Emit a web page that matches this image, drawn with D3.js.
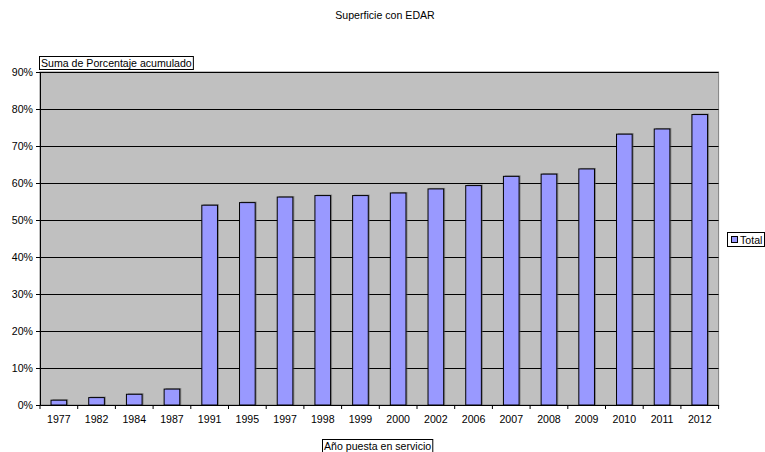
<!DOCTYPE html>
<html><head><meta charset="utf-8">
<script src="https://cdn.jsdelivr.net/npm/d3@7"></script>
<style>body{margin:0;background:#fff}svg{display:block;font-family:"Liberation Sans",Arial,sans-serif}</style>
</head><body><svg id="c" width="765" height="452"></svg>
<script>
const years = ["1977","1982","1984","1987","1991","1995","1997","1998","1999","2000","2002","2006","2007","2008","2009","2010","2011","2012"];
const totals = [1.3,2.0,2.9,4.3,54.0,54.7,56.2,56.6,56.6,57.3,58.4,59.3,61.8,62.4,63.8,73.2,74.6,78.5];
const yTicks = [0,10,20,30,40,50,60,70,80,90];
const title = "Superficie con EDAR";
const yTitle = "Suma de Porcentaje acumulado";
const xTitle = "Año puesta en servicio";
const seriesName = "Total";

const FS = 10.6;
const svg = d3.select("#c");
const L=40, R=718.6, T=72, B=405;
const x = d3.scaleBand().domain(years).range([L,R]).paddingInner(0.585).paddingOuter(0.2925);
const y = d3.scaleLinear().domain([0,90]).range([B,T]);

svg.append("text").attr("x",385).attr("y",19).attr("text-anchor","middle").attr("font-size",FS).text(title);

svg.append("rect").attr("x",L).attr("y",T).attr("width",R-L).attr("height",B-T).attr("fill","#c0c0c0").attr("stroke","#808080").attr("stroke-width",1);

svg.append("g").selectAll("line").data(yTicks.filter(d=>d>0)).join("line")
 .attr("x1",L).attr("x2",R).attr("y1",d=>Math.round(y(d))+0.5).attr("y2",d=>Math.round(y(d))+0.5)
 .attr("stroke","#000").attr("stroke-width",1);

// shadows
svg.append("g").selectAll("rect").data(totals).join("rect")
 .attr("x",(d,i)=>x(years[i])+1.5).attr("y",d=>y(d)-1).attr("width",x.bandwidth()).attr("height",d=>B-y(d)+1)
 .attr("fill","#555").attr("opacity",0.55);
svg.append("g").selectAll("rect").data(totals).join("rect")
 .attr("x",(d,i)=>x(years[i])).attr("y",d=>y(d)).attr("width",x.bandwidth()).attr("height",d=>B-y(d))
 .attr("fill","#9999ff").attr("stroke","#000").attr("stroke-width",1);

const ya = d3.axisLeft(y).tickValues(yTicks).tickFormat(d=>d+"%").tickSize(4).tickPadding(3);
const gy = svg.append("g").attr("transform",`translate(${L},0)`).call(ya);
gy.select(".domain").attr("stroke","#000");
gy.selectAll("text").attr("font-size",FS).attr("font-family","Liberation Sans, Arial").attr("fill","#000");

const xa = d3.axisBottom(x).tickSize(0).tickPadding(10);
const gx = svg.append("g").attr("transform",`translate(0,${B})`).call(xa);
gx.select(".domain").attr("stroke","#000");
gx.selectAll("text").attr("font-size",FS).attr("font-family","Liberation Sans, Arial").attr("fill","#000");
const step = x.step();
gx.append("g").selectAll("line").data(d3.range(years.length+1)).join("line")
 .attr("x1",i=>L+i*step).attr("x2",i=>L+i*step).attr("y1",0).attr("y2",4).attr("stroke","#000");

function boxText(tx,ty,txt){
  const g=svg.append("g");
  const t=g.append("text").attr("x",tx).attr("y",ty).attr("font-size",FS).text(txt);
  const bb=t.node().getBBox();
  g.insert("rect","text").attr("x",bb.x-1.5).attr("y",bb.y-0.5).attr("width",bb.width+3).attr("height",bb.height+1)
   .attr("fill","#fff").attr("stroke","#000").attr("stroke-width",1);
}
boxText(41,67,yTitle);
boxText(324,450,xTitle);

// legend
const lg=svg.append("g");
lg.append("rect").attr("x",727.5).attr("y",232.5).attr("width",37).attr("height",14).attr("fill","#fff").attr("stroke","#000");
lg.append("rect").attr("x",731.5).attr("y",236.5).attr("width",6).attr("height",6).attr("fill","#9999ff").attr("stroke","#000");
lg.append("text").attr("x",740).attr("y",243.5).attr("font-size",FS).text(seriesName);
</script></body></html>
